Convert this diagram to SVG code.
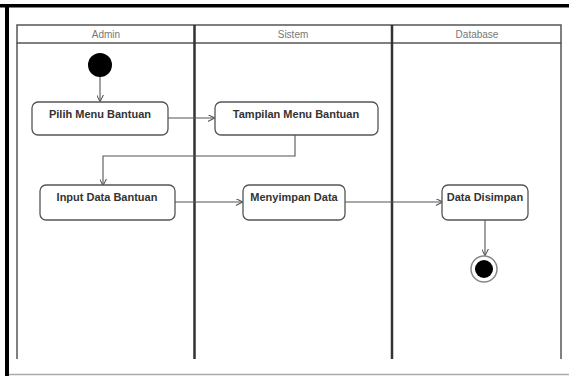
<svg xmlns="http://www.w3.org/2000/svg" width="569" height="376" viewBox="0 0 569 376">
<defs>
<style>
.lane{fill:none;stroke:#555;stroke-width:1.5}
.div{stroke:#333;stroke-width:2.5}
.hdr{font-family:"Liberation Sans",Arial,sans-serif;font-size:10px;fill:#777;text-anchor:middle}
.box{fill:#fff;stroke:#555;stroke-width:1.3}
.lbl{font-family:"Liberation Sans",Arial,sans-serif;font-size:11px;font-weight:bold;fill:#333;text-anchor:middle}
.edge{fill:none;stroke:#555;stroke-width:1.1;marker-end:url(#arr)}
</style>
<marker id="arr" viewBox="0 0 10 10" refX="9" refY="5" markerWidth="7" markerHeight="7" orient="auto" markerUnits="userSpaceOnUse">
<path d="M0,0 L10,5 L0,10" fill="none" stroke="#555" stroke-width="1.5"/>
</marker>
</defs>
<rect width="569" height="376" fill="#fff"/>
<rect x="0" y="4" width="569" height="3.5" fill="#000"/>
<rect x="5" y="4" width="4" height="372" fill="#000"/>
<line x1="9" y1="374.5" x2="569" y2="374.5" stroke="#aaa" stroke-width="1.5"/>
<g id="lanes">
<rect class="lane" x="17" y="25" width="544" height="18"/>
<line class="lane" x1="17" y1="43" x2="17" y2="359"/>
<line class="lane" x1="561" y1="43" x2="561" y2="359"/>
<line class="div" x1="194.5" y1="25" x2="194.5" y2="359"/>
<line class="div" x1="392" y1="25" x2="392" y2="359"/>
<text class="hdr" x="106" y="37.5">Admin</text>
<text class="hdr" x="293" y="37.5">Sistem</text>
<text class="hdr" x="477" y="37.5">Database</text>
</g>
<g id="connectors">
<path class="edge" d="M100,77 L100,101"/>
<path class="edge" d="M168,118 L214,118"/>
<path class="edge" d="M295,135 L295,156 L103,156 L103,185"/>
<path class="edge" d="M175,202 L242,202"/>
<path class="edge" d="M345,202 L442,202"/>
<path class="edge" d="M485,220 L485,255"/>
</g>
<g id="start"><circle cx="100" cy="65" r="12" fill="#000"/></g>
<g id="pilih"><rect class="box" x="32" y="102" width="136" height="33" rx="6"/><text class="lbl" x="100" y="118">Pilih Menu Bantuan</text></g>
<g id="tampilan"><rect class="box" x="215" y="102" width="163" height="33" rx="6"/><text class="lbl" x="296" y="118">Tampilan Menu Bantuan</text></g>
<g id="input"><rect class="box" x="40" y="185" width="135" height="35" rx="6"/><text class="lbl" x="107" y="201">Input Data Bantuan</text></g>
<g id="menyimpan"><rect class="box" x="243" y="185" width="102" height="35" rx="6"/><text class="lbl" x="294" y="201">Menyimpan Data</text></g>
<g id="disimpan"><rect class="box" x="442" y="185" width="86" height="35" rx="6"/><text class="lbl" x="485" y="201">Data Disimpan</text></g>
<g id="end"><circle cx="484" cy="269" r="13" fill="#fff" stroke="#888" stroke-width="1.5"/><circle cx="484" cy="269" r="9" fill="#000"/></g>
</svg>
